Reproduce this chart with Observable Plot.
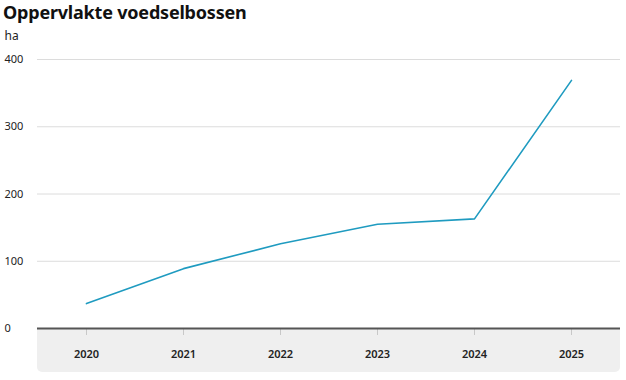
<!DOCTYPE html>
<html>
<head>
<meta charset="utf-8">
<script src="https://cdn.jsdelivr.net/npm/d3@7"></script>
<script src="https://cdn.jsdelivr.net/npm/@observablehq/plot@0.6"></script>
<style>
  body { margin: 0; background: #fff; font-family: "Noto Sans", sans-serif; }
  #title { font-family: "Noto Sans", sans-serif; font-weight: 700; font-size: 18px; line-height: 24px; height: 24px; padding-left: 3px; color: #111; letter-spacing: -0.2px; }
  #chart svg { display: block; }
</style>
</head>
<body>
<div id="title">Oppervlakte voedselbossen</div>
<div id="chart"></div>
<script>
const years = ["2020", "2021", "2022", "2023", "2024", "2025"];
const hectares = [37, 89, 126, 155, 163, 369];
const yTicks = [0, 100, 200, 300, 400];
const unitLabel = "ha";

const data = years.map((y, i) => ({year: y, value: hectares[i]}));

const panel = (index, scales, values, dims) => {
  const g = d3.create("svg:g");
  g.append("rect")
    .attr("x", dims.marginLeft)
    .attr("y", dims.height - dims.marginBottom)
    .attr("width", dims.width - dims.marginLeft - dims.marginRight)
    .attr("height", dims.marginBottom - 8)
    .attr("rx", 5)
    .attr("fill", "#efefef");
  g.append("rect")
    .attr("x", dims.marginLeft)
    .attr("y", dims.height - dims.marginBottom)
    .attr("width", dims.width - dims.marginLeft - dims.marginRight)
    .attr("height", 10)
    .attr("fill", "#efefef");
  return g.node();
};

const chart = Plot.plot({
  width: 626,
  height: 356,
  marginTop: 35,
  marginBottom: 52,
  marginLeft: 37,
  marginRight: 6,
  style: {fontFamily: "Noto Sans, sans-serif", fontSize: "11px", color: "#222"},
  x: {type: "point", domain: years, padding: 0.5, label: null},
  y: {domain: [0, 400], label: null, axis: null},
  marks: [
    panel,
    Plot.ruleY(yTicks.filter(d => d > 0), {stroke: "#dcdcdc", strokeWidth: 1}),
    Plot.axisX({tickSize: 7, tickPadding: 15, stroke: "#c8c8c8", fontWeight: 600, fill: "#222", label: null}),
    Plot.text(yTicks, {y: d => d, text: d => String(d), frameAnchor: "left", dx: -33, textAnchor: "start", fill: "#222"}),
    Plot.text([unitLabel], {text: d => d, frameAnchor: "top-left", dx: -33, dy: -28, textAnchor: "start", fill: "#222", fontSize: 12}),
    Plot.ruleY([0], {stroke: "#555", strokeWidth: 2}),
    Plot.line(data, {x: "year", y: "value", stroke: "#1f9bc0", strokeWidth: 1.6})
  ]
});
document.getElementById("chart").appendChild(chart);
</script>
</body>
</html>
